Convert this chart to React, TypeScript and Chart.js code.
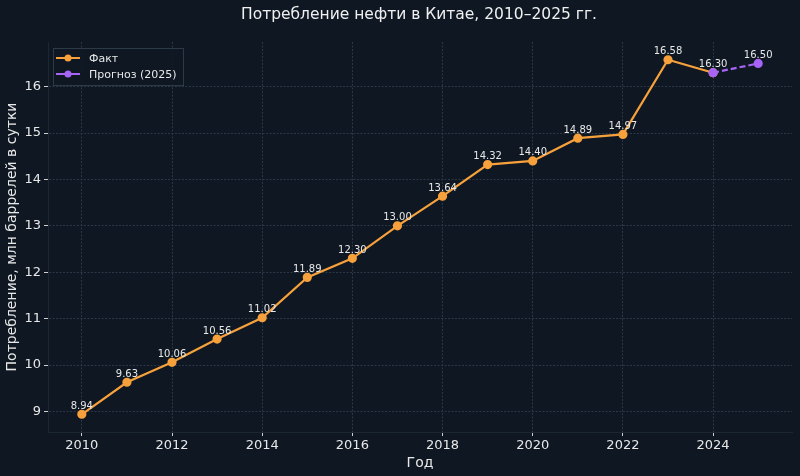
import { useEffect, useRef } from "react";
import { Chart, registerables, Plugin } from "chart.js";

Chart.register(...registerables);

const years = [2010, 2011, 2012, 2013, 2014, 2015, 2016, 2017, 2018, 2019, 2020, 2021, 2022, 2023, 2024];
const factValues = [8.94, 9.63, 10.06, 10.56, 11.02, 11.89, 12.3, 13.0, 13.64, 14.32, 14.4, 14.89, 14.97, 16.58, 16.3];
const forecastYears = [2024, 2025];
const forecastValues = [16.3, 16.5];
const xTicks = [2010, 2012, 2014, 2016, 2018, 2020, 2022, 2024];
const yTicks = [9, 10, 11, 12, 13, 14, 15, 16];

const BG = "#0e1722";
const ORANGE = "#f7a13c";
const PURPLE = "#a764f5";
const TEXT = "#e8e8e8";
const GRID = "#2b3746";
const FONT = "'DejaVu Sans', sans-serif";

// title, legend box and point labels
const overlay: Plugin = {
  id: "overlay",
  beforeDraw(chart) {
    const { ctx, width, height } = chart;
    ctx.save();
    ctx.fillStyle = BG;
    ctx.fillRect(0, 0, width, height);
    ctx.restore();
  },
  afterDatasetsDraw(chart) {
    const { ctx, chartArea } = chart;
    ctx.save();
    ctx.font = `10px ${FONT}`;
    ctx.fillStyle = TEXT;
    ctx.textAlign = "center";
    ctx.textBaseline = "middle";
    chart.getDatasetMeta(0).data.forEach((p, i) => {
      ctx.fillText(factValues[i].toFixed(2), p.x, p.y - 8);
    });
    const fm = chart.getDatasetMeta(1).data;
    const last = fm[fm.length - 1];
    ctx.fillText(forecastValues[forecastValues.length - 1].toFixed(2), last.x, last.y - 8);

    // title
    ctx.font = `15.5px ${FONT}`;
    ctx.fillStyle = "#f0f0f0";
    ctx.fillText("Потребление нефти в Китае, 2010–2025 гг.", (chartArea.left + chartArea.right) / 2 - 1, 15);

    // legend
    const lx = chartArea.left + 5;
    const ly = chartArea.top + 6;
    ctx.fillStyle = "rgba(14,23,34,0.85)";
    ctx.strokeStyle = "#2c3946";
    ctx.lineWidth = 1;
    ctx.fillRect(lx, ly, 130, 37);
    ctx.strokeRect(lx + 0.5, ly + 0.5, 130, 37);
    const items = [
      { label: "Факт", color: ORANGE },
      { label: "Прогноз (2025)", color: PURPLE },
    ];
    ctx.font = `11px ${FONT}`;
    ctx.textAlign = "left";
    items.forEach((it, i) => {
      const y = ly + 10 + i * 16;
      ctx.strokeStyle = it.color;
      ctx.lineWidth = 2;
      ctx.beginPath();
      ctx.moveTo(lx + 3, y);
      ctx.lineTo(lx + 27, y);
      ctx.stroke();
      ctx.fillStyle = it.color;
      ctx.beginPath();
      ctx.arc(lx + 15, y, 3.5, 0, Math.PI * 2);
      ctx.fill();
      ctx.fillStyle = TEXT;
      ctx.fillText(it.label, lx + 36, y + 1);
    });
    ctx.restore();
  },
};

export default function App() {
  const chartRef = useRef<HTMLCanvasElement | null>(null);

  useEffect(() => {
    document.body.style.margin = "0";
    document.body.style.background = BG;
    if (!chartRef.current) return;
    const ctx = chartRef.current.getContext("2d");
    if (!ctx) return;

    const chart = new Chart(ctx, {
      type: "line",
      data: {
        datasets: [
          {
            label: "Факт",
            data: years.map((x, i) => ({ x, y: factValues[i] })),
            borderColor: ORANGE,
            backgroundColor: ORANGE,
            borderWidth: 2.2,
            pointRadius: 3.5,
            pointHoverRadius: 3.5,
            tension: 0,
            order: 2,
          },
          {
            label: "Прогноз (2025)",
            data: forecastYears.map((x, i) => ({ x, y: forecastValues[i] })),
            borderColor: PURPLE,
            backgroundColor: PURPLE,
            borderWidth: 2.2,
            borderDash: [6, 3],
            pointRadius: 3.5,
            pointHoverRadius: 3.5,
            tension: 0,
            order: 1,
          },
        ],
      },
      options: {
        responsive: false,
        animation: false,
        layout: { padding: { top: 42, right: 8, left: 0, bottom: 0 } },
        plugins: {
          legend: { display: false },
          title: { display: false },
          tooltip: { enabled: false },
        },
        scales: {
          x: {
            type: "linear",
            min: 2009.25,
            max: 2025.75,
            afterBuildTicks: (s) => {
              s.ticks = xTicks.map((v) => ({ value: v }));
            },
            afterFit: (s) => {
              s.height = 44;
            },
            ticks: {
              color: TEXT,
              font: { family: FONT, size: 13 },
              padding: 2,
              maxRotation: 0,
              callback: (v) => String(v),
            },
            grid: { color: GRID, tickColor: "#d0d0d0", tickLength: 4 },
            border: { display: true, color: "#1b2733", dash: [2, 1.5] },
            title: {
              display: true,
              text: "Год",
              color: TEXT,
              font: { family: FONT, size: 14 },
              padding: { top: 0 },
            },
          },
          y: {
            type: "linear",
            min: 8.558,
            max: 16.962,
            afterBuildTicks: (s) => {
              s.ticks = yTicks.map((v) => ({ value: v }));
            },
            afterFit: (s) => {
              s.width = 48;
            },
            ticks: {
              color: TEXT,
              font: { family: FONT, size: 13 },
              padding: 3,
              callback: (v) => String(v),
            },
            grid: { color: GRID, tickColor: "#d0d0d0", tickLength: 4 },
            border: { display: true, color: "#1b2733", dash: [2, 1.5] },
            title: {
              display: true,
              text: "Потребление, млн баррелей в сутки",
              color: TEXT,
              font: { family: FONT, size: 14 },
              padding: { bottom: 0 },
            },
          },
        },
      },
      plugins: [overlay],
    });

    return () => {
      chart.destroy();
    };
  }, []);

  return <canvas ref={chartRef} width={800} height={476} style={{ display: "block" }}></canvas>;
}
